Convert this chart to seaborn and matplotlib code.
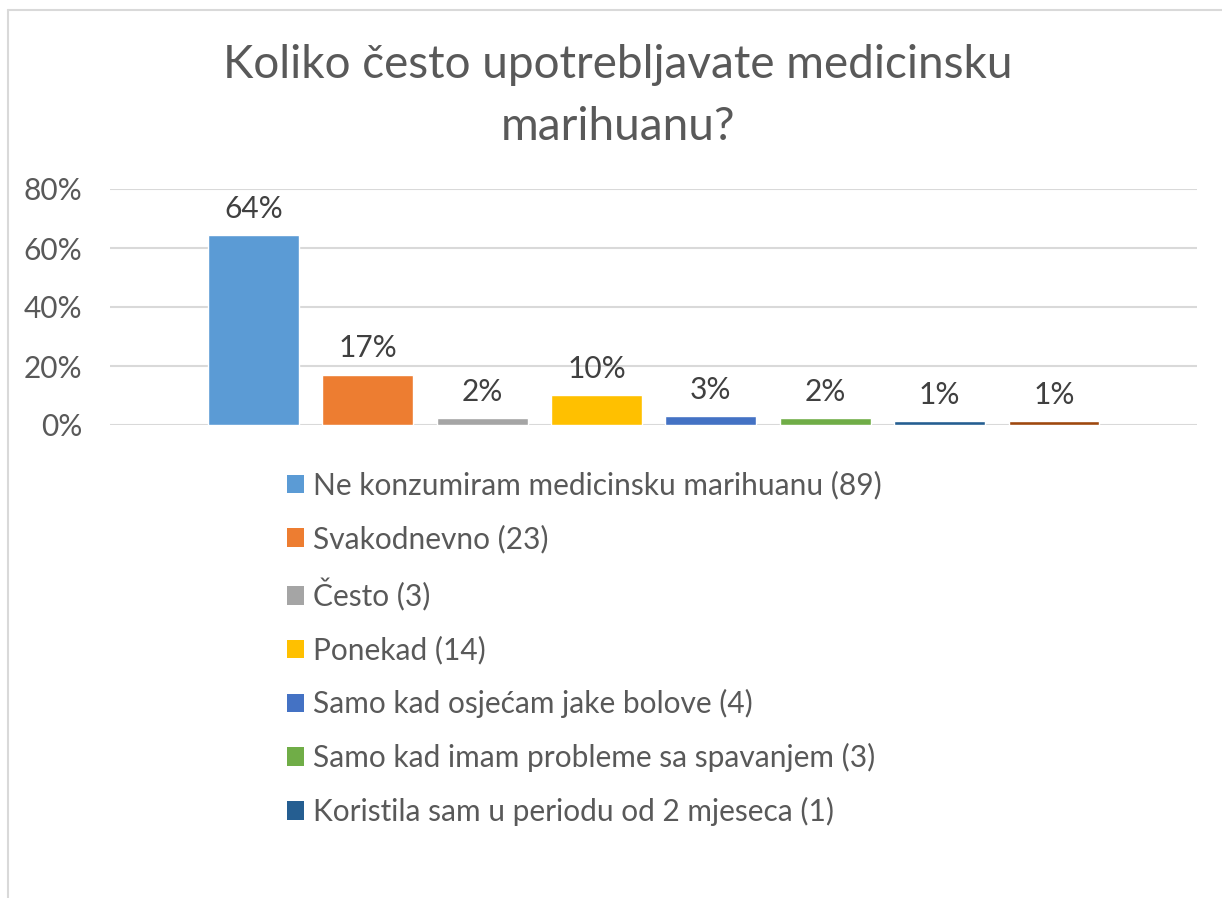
import matplotlib
matplotlib.use('Agg')
import matplotlib.pyplot as plt
from matplotlib.patches import Patch
from matplotlib.lines import Line2D
import seaborn as sns
import pandas as pd

# Chart data
categories = ['Ne konzumiram medicinsku marihuanu (89)',
              'Svakodnevno (23)',
              'Često (3)',
              'Ponekad (14)',
              'Samo kad osjećam jake bolove (4)',
              'Samo kad imam probleme sa spavanjem (3)',
              'Koristila sam u periodu od 2 mjeseca (1)',
              'Ostalo (1)']
percent = [64.4, 17.0, 2.3, 10.1, 3.0, 2.3, 1.2, 1.2]
bar_labels = ['64%', '17%', '2%', '10%', '3%', '2%', '1%', '1%']
colors = ['#5B9BD5', '#ED7D31', '#A5A5A5', '#FFC000',
          '#4472C4', '#70AD47', '#255E91', '#9E480E']
y_ticks = [0, 20, 40, 60, 80]
legend_count = 7  # last entry is cut off in the original

title = 'Koliko često upotrebljavate medicinsku\nmarihuanu?'

df = pd.DataFrame({'category': categories, 'percent': percent})

sns.set_theme(style='white')
plt.rcParams['font.family'] = ['Lato', 'DejaVu Sans']
text_gray = '#595959'
grid_gray = '#D9D9D9'
fs = 21.5

fig = plt.figure(figsize=(12.22, 8.98), dpi=100)
ax = fig.add_axes([110 / 1222, 1 - 425 / 898, (1197 - 110) / 1222, (425 - 189) / 898])

sns.barplot(data=df, x='category', y='percent', hue='category',
            palette=colors, width=0.795, legend=False, ax=ax, saturation=1)

ax.set_xlim(-1.254, 8.25)
ax.set_ylim(0, 80)
ax.set_yticks(y_ticks)
ax.set_yticklabels([f'{t}%' for t in y_ticks])
ax.set_xticks([])
ax.set_xlabel('')
ax.set_ylabel('')
ax.yaxis.grid(True, color=grid_gray, linewidth=1.5)
ax.set_axisbelow(True)
ax.tick_params(axis='y', length=0, pad=20, labelsize=fs, labelcolor=text_gray)
for s in ax.spines.values():
    s.set_visible(False)

# Data labels above bars
for i, (v, lab) in enumerate(zip(percent, bar_labels)):
    ax.annotate(lab, (i, v), xytext=(0, 19), textcoords='offset points',
                ha='center', va='center', fontsize=fs, color='#404040')

# Title
fig.text(618 / 1222, 1 - 96 / 898, title, ha='center', va='center',
         fontsize=33, color=text_gray, linespacing=1.6)

# Legend (7 visible entries)
handles = [Patch(facecolor=c, edgecolor='none') for c in colors[:legend_count]]
fig.legend(handles, categories[:legend_count], loc='upper left',
           bbox_to_anchor=(287 / 1222, 1 - 471 / 898), frameon=False,
           borderpad=0, borderaxespad=0, handlelength=0.57, handleheight=0.57,
           handletextpad=0.3, labelspacing=0.83, fontsize=fs,
           labelcolor=text_gray)

# Chart frame (top and left edges visible)
fig.add_artist(Line2D([8 / 1222, 1], [1 - 10 / 898, 1 - 10 / 898],
                      transform=fig.transFigure, color=grid_gray, linewidth=1.5))
fig.add_artist(Line2D([8 / 1222, 8 / 1222], [0, 1 - 10 / 898],
                      transform=fig.transFigure, color=grid_gray, linewidth=1.5))

fig.savefig('out.png', dpi=100, facecolor='white')
